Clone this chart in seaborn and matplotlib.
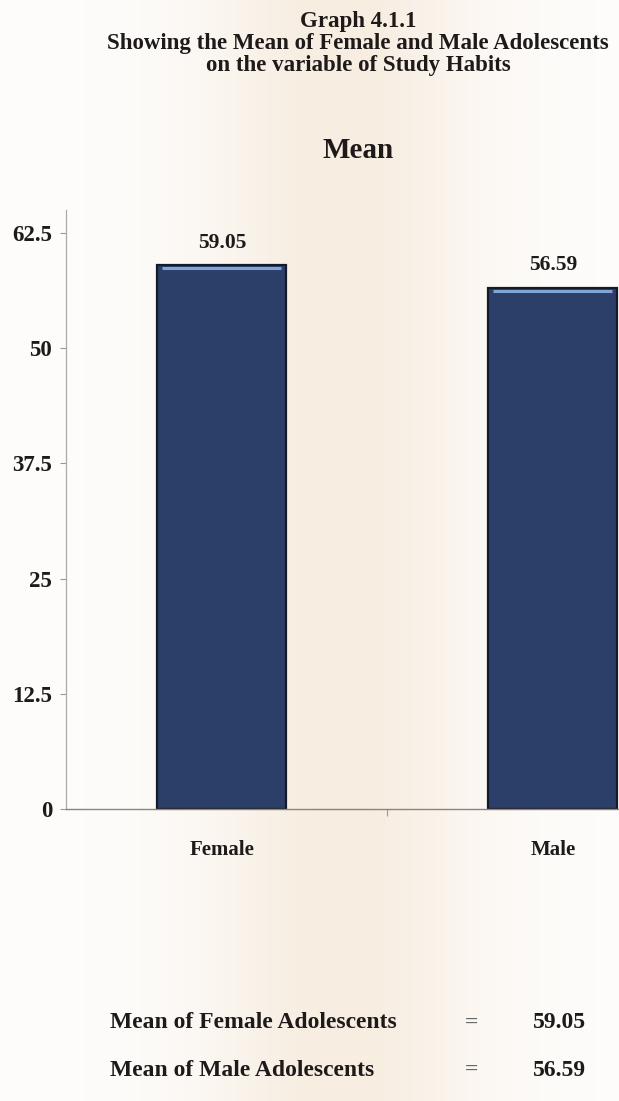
import numpy as np
import matplotlib
matplotlib.use("Agg")
import matplotlib.pyplot as plt
import seaborn as sns
import pandas as pd

categories = ["Female", "Male"]
means = [59.05, 56.59]
yticks = [0, 12.5, 25, 37.5, 50, 62.5]
ytick_labels = ["0", "12.5", "25", "37.5", "50", "62.5"]
title_lines = ["Graph 4.1.1",
               "Showing the Mean of Female and Male Adolescents",
               "on the variable of Study Habits"]
chart_title = "Mean"
summary_labels = ["Mean of Female Adolescents", "Mean of Male Adolescents"]

sns.set_theme(style="white")
plt.rcParams['font.family'] = ['Liberation Serif', 'DejaVu Serif']
plt.rcParams['font.weight'] = 'bold'

W, H = 619, 1101
fig = plt.figure(figsize=(W / 100, H / 100), dpi=100)

# paper background with warm central band
bg = fig.add_axes([0, 0, 1, 1], zorder=-10)
xs = np.linspace(0, 1, 400)
warm = np.exp(-((xs - 0.55) / 0.22) ** 2)
c_edge = np.array([0.995, 0.99, 0.985])
c_mid = np.array([0.97, 0.93, 0.88])
img = c_edge[None, :] * (1 - warm[:, None]) + c_mid[None, :] * warm[:, None]
bg.imshow(img[None, :, :], aspect='auto', extent=[0, 1, 0, 1])
bg.set_axis_off()

TXT = "#1e1a1a"

left_px, right_px = 66, 619
top_px, bot_px = 210, 809
ax = fig.add_axes([left_px / W, 1 - bot_px / H, (right_px - left_px) / W, (bot_px - top_px) / H])
ax.patch.set_alpha(0)

df = pd.DataFrame({"cat": categories, "mean": means})
sns.barplot(data=df, x="cat", y="mean", ax=ax, color="#2b3f69", width=0.39,
            edgecolor="#141a28", linewidth=1.6, saturation=1)

# light highlight on bar tops and value labels
for i, v in enumerate(means):
    ax.hlines(v - 0.35, i - 0.18, i + 0.18, color="#7fa6d6", lw=2.2, zorder=5)
    ax.text(i, v + 2.4, f"{v:.2f}", ha="center", va="center", fontsize=15.5,
            fontweight="bold", color=TXT)

ax.set_xlim(-0.471, 1.2)
ax.set_ylim(0, 65)
ax.set_yticks(yticks)
ax.set_yticklabels(ytick_labels, fontsize=16.5, fontweight="bold", color=TXT)
ax.set_xticks([0, 1])
ax.set_xticklabels(categories, fontsize=15, fontweight="bold", color=TXT)
ax.set_xticks([0.5], minor=True)
ax.tick_params(axis='x', which='major', length=0, pad=22)
ax.tick_params(axis='x', which='minor', length=5, width=0.8, color="#999999", direction='out', bottom=True)
ax.tick_params(axis='y', length=4, width=0.8, color="#999999", pad=6, left=True)
ax.set_xlabel("")
ax.set_ylabel("")
for s in ["top", "right"]:
    ax.spines[s].set_visible(False)
ax.spines["left"].set_color("#b0aaa5")
ax.spines["bottom"].set_color("#8a8580")
ax.spines["left"].set_linewidth(0.9)
ax.spines["bottom"].set_linewidth(1.0)

# titles
fig.text(358 / W, 1 - 22 / H, title_lines[0], ha="center", va="center", fontsize=16.5, fontweight="bold", color=TXT)
fig.text(358 / W, 1 - 44 / H, title_lines[1], ha="center", va="center", fontsize=16.5, fontweight="bold", color=TXT)
fig.text(358 / W, 1 - 65 / H, title_lines[2], ha="center", va="center", fontsize=16.5, fontweight="bold", color=TXT)
fig.text(358 / W, 1 - 150 / H, chart_title, ha="center", va="center", fontsize=21, fontweight="bold", color=TXT)

# summary lines
for j, (lab, v) in enumerate(zip(summary_labels, means)):
    y = 1 - (1023 + 47 * j) / H
    fig.text(110 / W, y, lab, ha="left", va="center", fontsize=17, fontweight="bold", color=TXT)
    fig.text(472 / W, y, "=", ha="center", va="center", fontsize=17, fontweight="bold", color="#666666")
    fig.text(586 / W, y, f"{v:.2f}", ha="right", va="center", fontsize=17, fontweight="bold", color=TXT)

fig.savefig("out.png", dpi=100)
